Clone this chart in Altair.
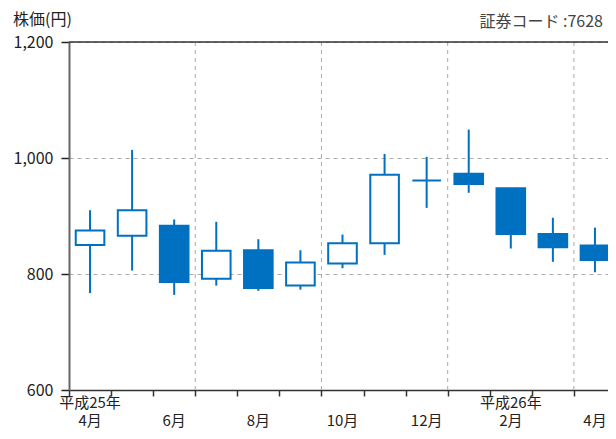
import altair as alt
import pandas as pd

# ---- data ----
months = ["2013-04", "2013-05", "2013-06", "2013-07", "2013-08", "2013-09", "2013-10",
          "2013-11", "2013-12", "2014-01", "2014-02", "2014-03", "2014-04"]
open_ = [850, 866, 883, 792, 841, 780, 818, 853, 961, 973, 948, 869, 849]
high = [910, 1014, 894, 890, 860, 841, 868, 1007, 1002, 1049, 948, 897, 880]
low = [767, 806, 764, 780, 771, 773, 810, 833, 914, 940, 844, 821, 803]
close = [875, 910, 786, 840, 776, 820, 853, 971, 961, 955, 869, 846, 824]

month_labels = ["4月", "", "6月", "", "8月", "", "10月", "", "12月", "", "2月", "", "4月"]
year_labels = ["平成25年", "", "", "", "", "", "", "", "", "", "平成26年", "", ""]
y_ticks = [600, 800, 1000, 1200]
x_ticks = list(range(13))
x_grid = [3, 6, 9, 12]
title_left = "株価(円)"
title_right = "証券コード :7628"

BLUE = "#0070C0"
FONT = "Noto Sans CJK JP"
W, H = 539, 348
XMAX = 12.81

df = pd.DataFrame({
    "month": months,
    "idx": list(range(len(months))),
    "open": open_, "high": high, "low": low, "close": close,
    "mlabel": month_labels, "ylabel": year_labels,
})

xscale = alt.Scale(domain=[0, XMAX], nice=False, zero=False)
yscale = alt.Scale(domain=[600, 1200], nice=False, zero=False)

base = alt.Chart(df).transform_calculate(
    xc="datum.idx + 0.5", xl="datum.idx + 0.16", xr="datum.idx + 0.84"
)

vgrid = alt.Chart(pd.DataFrame({"g": x_grid})).mark_rule(
    color="#aaaaaa", strokeDash=[4, 4], strokeWidth=1
).encode(
    x=alt.X("g:Q", scale=xscale,
            axis=alt.Axis(values=x_ticks, labels=False, title=None, grid=False,
                          tickSize=6, tickColor="#333333", tickWidth=1.5,
                          domainColor="#333333", domainWidth=1.5)),
    y=alt.value(0), y2=alt.value(H),
)

wick = base.mark_rule(color=BLUE, strokeWidth=2).encode(
    x=alt.X("xc:Q", scale=xscale),
    y=alt.Y("low:Q", scale=yscale,
            axis=alt.Axis(values=y_ticks, format=",.0f", title=None, grid=True,
                          gridDash=[4, 4], gridColor="#aaaaaa", tickSize=8,
                          tickColor="#222222", tickWidth=1.5, domainColor="#666666",
                          domainWidth=2, labelFont=FONT, labelFontSize=16,
                          labelColor="#222222", labelPadding=8)),
    y2="high:Q",
)

body = base.mark_bar(stroke=BLUE, strokeWidth=2).encode(
    x=alt.X("xl:Q", scale=xscale),
    x2="xr:Q",
    y=alt.Y("open:Q", scale=yscale),
    y2="close:Q",
    fill=alt.condition("datum.close > datum.open", alt.value("white"), alt.value(BLUE)),
)

top_rule = alt.Chart(pd.DataFrame({"v": [1200]})).mark_rule(
    color="#333333", strokeWidth=1.5
).encode(y=alt.Y("v:Q", scale=yscale), x=alt.value(0), x2=alt.value(W))

mtext = base.transform_filter("datum.mlabel != ''").mark_text(
    font=FONT, fontSize=15, color="#222222", baseline="middle", align="center"
).encode(x=alt.X("xc:Q", scale=xscale), y=alt.value(H + 31), text="mlabel:N")

ytext = base.transform_filter("datum.ylabel != ''").mark_text(
    font=FONT, fontSize=15, color="#222222", baseline="middle", align="center"
).encode(x=alt.X("xc:Q", scale=xscale), y=alt.value(H + 13), text="ylabel:N")

tl = alt.Chart(pd.DataFrame({"t": [title_left]})).mark_text(
    font=FONT, fontSize=16, color="#222222", align="left", baseline="middle"
).encode(x=alt.value(-56), y=alt.value(-22), text="t:N")

tr = alt.Chart(pd.DataFrame({"t": [title_right]})).mark_text(
    font=FONT, fontSize=16, color="#444444", align="right", baseline="middle"
).encode(x=alt.value(534), y=alt.value(-20), text="t:N")

chart = alt.layer(vgrid, wick, body, top_rule, mtext, ytext, tl, tr).properties(
    width=W, height=H,
    autosize=alt.AutoSizeParams(type="none"),
    padding={"left": 61, "top": 34, "right": 0, "bottom": 41},
).configure_view(stroke=None)

chart.save("out.html", embed_options={"renderer": "svg", "actions": False})
